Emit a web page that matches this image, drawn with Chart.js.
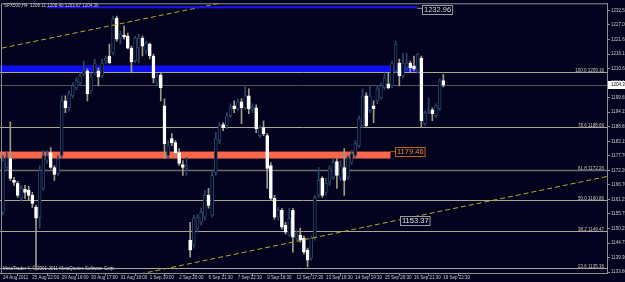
<!DOCTYPE html>
<html><head><meta charset="utf-8">
<script src="https://cdn.jsdelivr.net/npm/chart.js@4.4.1/dist/chart.umd.min.js"></script>
<style>html,body{margin:0;padding:0;background:#030320;overflow:hidden}canvas{display:block}</style>
</head><body>
<canvas id="c" width="625" height="282"></canvas>
<script>
const symbol = 'SPX500,H4';
const opens = [1156.39,1173.29,1176.67,1168.41,1167.28,1161.65,1165.03,1164.66,1162.78,1158.27,
1154.52,1165.41,1175.92,1178.92,1173.29,1171.04,1177.80,1198.45,1195.82,1200.33,
1203.33,1205.21,1208.59,1209.72,1202.21,1208.96,1209.72,1207.84,1213.47,1215.35,
1216.47,1229.62,1222.11,1223.23,1222.86,1218.35,1213.47,1218.35,1222.11,1217.23,
1219.85,1215.35,1205.21,1208.21,1196.57,1177.80,1184.18,1182.68,1178.92,1174.42,
1172.92,1145.88,1144.00,1150.39,1152.64,1154.52,1162.78,1155.27,1171.41,1183.43,
1189.44,1189.06,1192.82,1196.57,1195.45,1198.08,1195.82,1200.33,1195.07,1195.82,
1185.31,1188.31,1185.31,1174.04,1161.65,1154.52,1157.15,1151.51,1147.76,1157.15,
1146.63,1147.76,1146.63,1142.13,1139.12,1146.63,1162.78,1169.16,1163.90,1167.66,
1169.54,1175.54,1169.16,1173.29,1169.54,1175.17,1177.80,1181.55,1189.06,1200.33,
1194.70,1196.57,1198.45,1199.58,1203.33,1204.83,1204.08,1209.72,1212.72,1207.84,
1210.84,1212.72,1211.59,1209.72,1214.60,1189.81,1193.94,1195.07,1192.82,1195.45,1206.11];
const highs = [1177.80,1178.92,1190.56,1169.54,1168.03,1166.53,1166.53,1166.16,1163.90,1159.02,
1174.04,1179.68,1179.68,1180.80,1174.04,1177.80,1200.33,1200.33,1202.21,1205.21,
1207.09,1208.96,1213.47,1210.47,1208.96,1214.22,1210.84,1214.22,1215.35,1219.85,
1230.37,1230.37,1224.74,1226.61,1223.98,1219.10,1222.86,1223.61,1222.86,1220.98,
1220.23,1216.10,1208.59,1208.96,1199.20,1183.43,1186.06,1183.43,1180.43,1175.92,
1177.05,1152.64,1155.27,1155.64,1157.90,1164.66,1165.41,1172.17,1186.43,1190.19,
1190.19,1193.94,1197.32,1198.45,1199.20,1199.20,1204.08,1202.96,1197.32,1196.95,
1189.06,1190.94,1186.06,1175.17,1162.78,1158.27,1157.90,1152.64,1157.90,1157.90,
1149.64,1150.39,1147.38,1142.88,1147.38,1162.78,1173.29,1169.91,1169.16,1174.04,
1176.67,1176.67,1175.92,1180.43,1177.80,1179.68,1183.43,1192.82,1202.96,1201.45,
1204.08,1198.45,1204.08,1205.21,1208.96,1208.96,1213.47,1220.98,1214.22,1216.47,
1216.47,1213.47,1215.35,1216.47,1215.35,1194.70,1199.58,1195.82,1197.32,1206.71,1208.40];
const lows = [1155.27,1172.17,1168.41,1166.53,1162.03,1160.90,1161.65,1160.90,1158.27,1134.62,
1150.39,1164.66,1174.79,1172.92,1168.41,1170.29,1177.05,1193.94,1194.70,1199.58,
1202.58,1204.46,1207.84,1198.45,1201.45,1208.21,1204.08,1207.09,1212.34,1212.34,
1215.72,1220.98,1219.85,1221.73,1217.98,1208.96,1212.72,1212.72,1215.35,1216.10,
1214.22,1205.21,1204.46,1198.45,1176.67,1176.67,1181.55,1177.80,1174.04,1170.29,
1170.29,1139.50,1142.88,1148.88,1151.51,1153.39,1157.90,1154.52,1170.29,1182.30,
1187.19,1187.94,1192.07,1193.94,1194.70,1189.81,1195.07,1193.57,1193.94,1186.43,
1184.56,1185.31,1165.41,1160.90,1153.77,1153.39,1150.01,1148.13,1147.38,1141.37,
1145.88,1145.13,1140.62,1135.74,1138.37,1145.88,1162.03,1162.03,1162.78,1166.53,
1168.79,1165.41,1168.41,1162.78,1168.79,1174.42,1177.05,1180.80,1188.31,1188.31,
1193.94,1190.19,1197.32,1198.83,1202.58,1202.96,1203.33,1208.96,1204.08,1207.09,
1210.09,1208.96,1209.72,1208.96,1188.31,1189.06,1193.57,1190.94,1192.07,1194.70,1203.67];
const closes = [1175.92,1177.05,1169.16,1167.66,1162.78,1165.41,1163.90,1162.78,1159.77,1154.14,
1172.17,1177.80,1177.80,1173.29,1170.66,1176.67,1198.45,1195.82,1201.08,1204.08,
1205.96,1207.84,1209.72,1201.08,1207.46,1212.72,1207.46,1212.72,1214.60,1212.72,
1229.24,1221.73,1223.61,1222.48,1218.35,1213.09,1222.11,1222.11,1219.10,1220.23,
1215.35,1207.09,1207.84,1203.33,1182.30,1181.55,1182.68,1178.92,1174.79,1173.29,
1174.04,1142.13,1154.14,1154.52,1156.39,1162.78,1159.02,1170.29,1184.18,1189.06,
1188.31,1192.82,1195.82,1195.45,1198.08,1195.82,1200.33,1195.45,1196.20,1187.94,
1188.31,1186.06,1172.92,1161.65,1154.52,1157.15,1150.76,1148.88,1154.14,1147.01,
1148.51,1145.88,1141.37,1138.37,1146.63,1162.03,1168.41,1162.78,1167.28,1172.92,
1175.17,1170.29,1174.04,1168.41,1177.05,1178.55,1182.30,1191.69,1200.33,1189.06,
1200.33,1195.45,1202.96,1204.08,1207.09,1203.33,1212.72,1219.85,1207.84,1212.72,
1212.72,1210.84,1210.47,1216.10,1190.94,1193.94,1194.70,1193.57,1196.57,1205.96,1204.36];

const timeLabels = ['24 Aug 2011','25 Aug 22:00','29 Aug 16:00','30 Aug 17:00','31 Aug 18:00','1 Sep 19:00','2 Sep 20:00','6 Sep 21:30','7 Sep 22:30','9 Sep 16:30','12 Sep 17:30','13 Sep 18:30','14 Sep 19:30','15 Sep 20:30','16 Sep 21:30','19 Sep 22:30'];
const timeLabelBars = [0,8,16,24,32,40,48,56,64,72,80,88,96,104,112,120];
const priceTicks = [1232.55,1227.05,1221.60,1216.10,1210.60,1205.10,1199.65,1194.15,1188.65,1183.15,1177.70,1172.20,1166.70,1161.25,1155.75,1150.25,1144.75,1139.30,1133.80];

const fibLevels = [100.0,78.6,61.8,50.0,38.2,23.6];
const fibPrices = [1209.16,1188.66,1172.26,1160.86,1149.47,1135.36];

const blueZonePrices = [1211.80,1208.96];
const blueZoneEndBar = 113;
const redZonePrices = [1179.30,1176.67];
const redZoneEndBar = 105.6;
const topLinePrice = 1233.75;
const topLineBars = [12,112.8];

const upperTrendBars = [-0.27,56.4];
const upperTrendPrices = [1218.35,1234.50];
const lowerTrendBars = [37.3,164.6];
const lowerTrendPrices = [1133.10,1169.90];

const priceLabelTexts = ['1232.96','1179.46','1153.37'];
const priceLabelValues = [1232.96,1179.46,1153.37];
const priceLabelBars = [114.2,106.8,108.2];

const BG = '#030320';
const BULL = '#2a4563';
const n = opens.length;
const isBull = opens.map((o,i)=>closes[i]>=o);

const FONT = '"Liberation Sans", Arial, sans-serif';

const mt4 = {
  id:'mt4',
  beforeDraw(chart){
    const ctx = chart.ctx;
    ctx.save(); ctx.fillStyle = BG; ctx.fillRect(0,0,chart.width,chart.height); ctx.restore();
  },
  beforeDatasetsDraw(chart){
    const {ctx, chartArea:a, scales:{x,y}} = chart;
    ctx.save();
    ctx.beginPath(); ctx.rect(a.left,a.top,a.right-a.left,a.bottom-a.top); ctx.clip();
    let y0 = y.getPixelForValue(blueZonePrices[0]), y1 = y.getPixelForValue(blueZonePrices[1]);
    ctx.fillStyle = '#1010ee';
    ctx.fillRect(a.left, y0, x.getPixelForValue(blueZoneEndBar)-a.left, y1-y0);
    y0 = y.getPixelForValue(redZonePrices[0]); y1 = y.getPixelForValue(redZonePrices[1]);
    ctx.fillStyle = '#f8664c';
    ctx.fillRect(a.left, y0, x.getPixelForValue(redZoneEndBar)-a.left, y1-y0);
    fibPrices.forEach((p,k)=>{
      const py = Math.round(y.getPixelForValue(p))+0.5;
      ctx.strokeStyle = k===2 ? '#6c6c66' : '#aaa796';
      ctx.lineWidth = k===2 ? 1.5 : 1;
      ctx.beginPath(); ctx.moveTo(a.left,py); ctx.lineTo(a.right,py); ctx.stroke();
    });
    const by = Math.round(y.getPixelForValue(closes[n-1]))+0.5;
    ctx.strokeStyle = '#555555'; ctx.lineWidth = 1;
    ctx.beginPath(); ctx.moveTo(a.left,by); ctx.lineTo(a.right,by); ctx.stroke();
    ctx.restore();
  },
  afterDatasetsDraw(chart){
    const {ctx, chartArea:a, scales:{x,y}} = chart;
    ctx.save();
    ctx.beginPath(); ctx.rect(a.left,a.top,a.right-a.left,a.bottom-a.top); ctx.clip();
    ctx.strokeStyle = '#b4ac1c'; ctx.lineWidth = 1; ctx.setLineDash([5,3]);
    [[upperTrendBars,upperTrendPrices],[lowerTrendBars,lowerTrendPrices]].forEach(([b,p])=>{
      const xa = x.getPixelForValue(b[0]), ya = y.getPixelForValue(p[0]);
      const xb = x.getPixelForValue(b[1]), yb = y.getPixelForValue(p[1]);
      const s = (yb-ya)/(xb-xa);
      const xe = a.right+5;
      ctx.beginPath(); ctx.moveTo(xa,ya); ctx.lineTo(xe, ya + s*(xe-xa)); ctx.stroke();
    });
    ctx.setLineDash([]);
    const ty = y.getPixelForValue(topLinePrice);
    ctx.strokeStyle = '#1414ff'; ctx.lineWidth = 2;
    ctx.beginPath(); ctx.moveTo(x.getPixelForValue(topLineBars[0]),ty); ctx.lineTo(x.getPixelForValue(topLineBars[1]),ty); ctx.stroke();
    ctx.font = '4.5px '+FONT; ctx.fillStyle = '#c8c6b8'; ctx.textAlign='right'; ctx.textBaseline='alphabetic';
    fibPrices.forEach((p,k)=>{
      const py = Math.round(y.getPixelForValue(p));
      ctx.fillText(fibLevels[k].toFixed(1)+' '+p.toFixed(2), a.right-3, py-0.5);
    });
    const styles = [['#d8d8d8','#9a9a9a'],['#f08a24','#b86410'],['#e6e6e6','#9a9a9a']];
    ctx.font = '7.5px '+FONT; ctx.textAlign='left'; ctx.textBaseline='middle';
    priceLabelTexts.forEach((t,k)=>{
      const lx = Math.round(x.getPixelForValue(priceLabelBars[k]));
      const cy = y.getPixelForValue(priceLabelValues[k]);
      const w = ctx.measureText(t).width + 3;
      ctx.strokeStyle = styles[k][1]; ctx.lineWidth = 1;
      ctx.beginPath();
      if(k===0){ ctx.moveTo(x.getPixelForValue(topLineBars[1]), ty+1); ctx.lineTo(lx, cy-1); }
      if(k===1){ ctx.moveTo(x.getPixelForValue(redZoneEndBar), cy+0.5); ctx.lineTo(lx, cy+0.5); }
      ctx.stroke();
      ctx.fillStyle = BG; ctx.fillRect(lx, Math.round(cy-4.5), w, 9);
      ctx.strokeRect(lx+0.5, Math.round(cy-4.5)+0.5, w, 9);
      ctx.fillStyle = styles[k][0];
      ctx.fillText(t, lx+2, cy+0.5);
    });
    ctx.restore();
  },
  afterDraw(chart){
    const {ctx, chartArea:a, scales:{x,y}} = chart;
    ctx.save();
    ctx.strokeStyle = '#8e8e8e'; ctx.lineWidth = 1;
    ctx.beginPath(); ctx.moveTo(a.left+1.5, a.bottom); ctx.lineTo(a.left+1.5, a.top+0.5); ctx.lineTo(a.right, a.top+0.5); ctx.stroke();
    ctx.font = '4.5px '+FONT; ctx.textAlign='left'; ctx.textBaseline='alphabetic';
    ctx.fillStyle = '#c8c8c8';
    const L = n-1;
    ctx.fillText(symbol+'  '+opens[L].toFixed(2)+' '+highs[L].toFixed(2)+' '+lows[L].toFixed(2)+' '+closes[L].toFixed(2), 4, 7);
    ctx.fillStyle = '#d8d8d8';
    ctx.fillText('MetaTrader 4, \u00A9 2001-2011 MetaQuotes Software Corp.', 3, 270);
    const cy = y.getPixelForValue(closes[L]);
    ctx.fillStyle = '#ffffff';
    ctx.fillRect(a.right+1, Math.round(cy-4), chart.width-a.right, 8);
    ctx.fillStyle = '#000000'; ctx.textBaseline='middle';
    ctx.fillText(closes[L].toFixed(2), a.right+4, cy);
    ctx.restore();
  }
};

new Chart(document.getElementById('c'), {
  type:'bar',
  data:{
    datasets:[
      {
        label:'bodies', order:1, grouped:false,
        data: opens.map((o,i)=>({x:i, y:[o, closes[i]]})),
        backgroundColor: isBull.map(b=>b?BG:'#ffffff'),
        borderColor: isBull.map(b=>b?BULL:'#ffffff'),
        borderWidth:1, borderSkipped:false, barThickness:3
      },
      {
        label:'wicks', order:2, grouped:false,
        data: lows.map((l,i)=>({x:i, y:[l, highs[i]]})),
        backgroundColor: isBull.map(b=>b?BULL:'#a09a88'),
        borderWidth:0, barThickness:1
      }
    ]
  },
  options:{
    responsive:false, animation:false, devicePixelRatio:1,
    layout:{padding:{top:2,left:0,right:0,bottom:0}},
    plugins:{legend:{display:false}, tooltip:{enabled:false}},
    scales:{
      x:{
        type:'linear', min:-0.817, max:164.6, offset:false,
        afterFit(s){ s.height = 9; },
        afterBuildTicks(s){ s.ticks = timeLabelBars.map(v=>({value:v})); },
        grid:{drawOnChartArea:false, drawTicks:true, tickLength:3, color:'#8e8e8e'},
        border:{display:true, color:'#8e8e8e'},
        ticks:{autoSkip:false, maxRotation:0, minRotation:0, align:'start', padding:0,
          color:'#c8c8c8', font:{size:4.5, family:FONT, lineHeight:1},
          callback(v){ const k = timeLabelBars.indexOf(v); return k>=0 ? timeLabels[k] : ''; }}
      },
      y:{
        type:'linear', position:'right',
        min:1133.49, max:1235.25,
        afterFit(s){ s.width = 18; },
        afterBuildTicks(s){ s.ticks = priceTicks.map(v=>({value:v})); },
        grid:{drawOnChartArea:false, drawTicks:true, tickLength:3, color:'#8e8e8e'},
        border:{display:true, color:'#8e8e8e'},
        ticks:{autoSkip:false, padding:1, color:'#c8c8c8', font:{size:4.5, family:FONT, lineHeight:1},
          callback(v){ return Number(v).toFixed(2); }}
      }
    }
  },
  plugins:[mt4]
});
</script>
</body></html>
